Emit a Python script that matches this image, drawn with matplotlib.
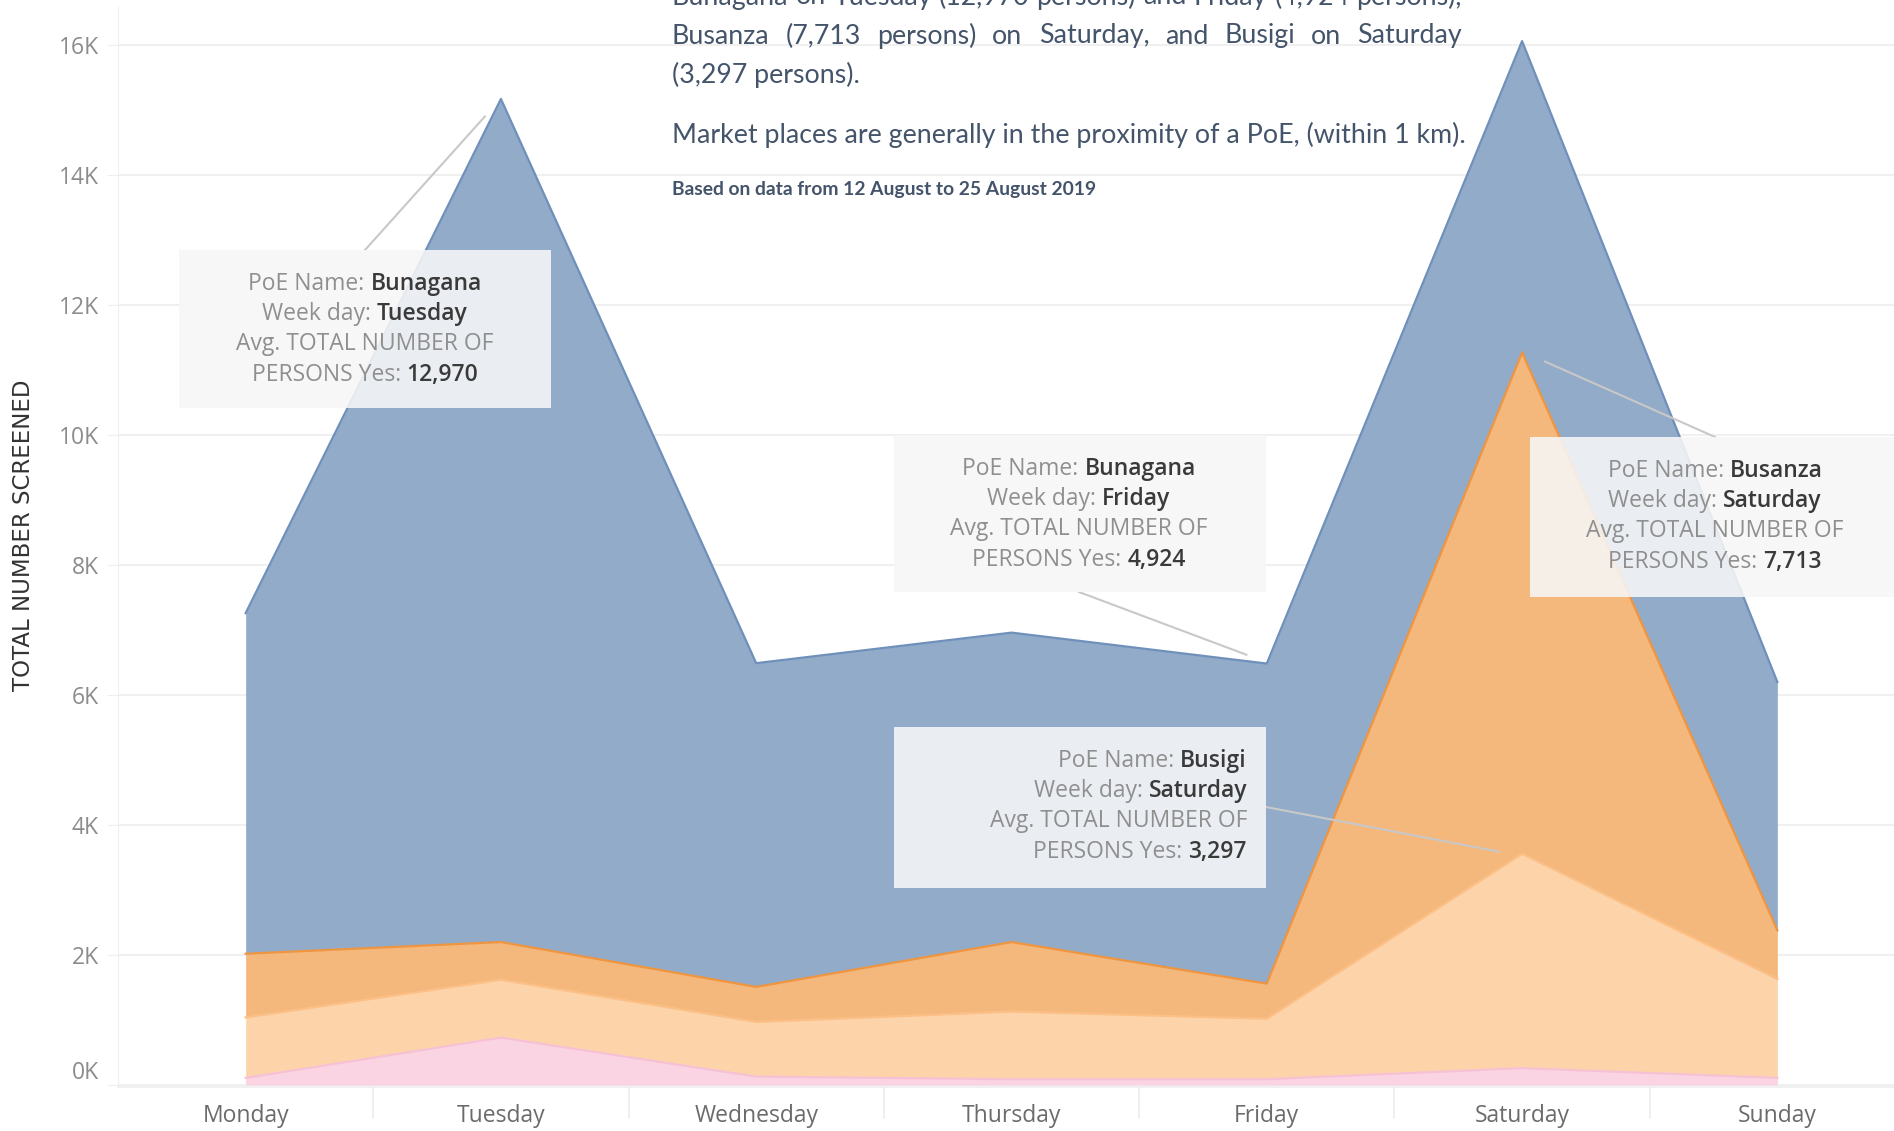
import numpy as np
import matplotlib
matplotlib.use("Agg")
import matplotlib.pyplot as plt
from matplotlib.transforms import Affine2D

# values in thousands of persons
days = ["Monday", "Tuesday", "Wednesday", "Thursday", "Friday", "Saturday", "Sunday"]
other = [0.11, 0.73, 0.13, 0.09, 0.09, 0.26, 0.11]
busigi = [0.93, 0.89, 0.84, 1.04, 0.93, 3.297, 1.52]
busanza = [0.98, 0.58, 0.54, 1.07, 0.54, 7.713, 0.75]
bunagana = [5.24, 12.970, 4.98, 4.76, 4.924, 4.79, 3.82]
yticks = [0, 2, 4, 6, 8, 10, 12, 14, 16]

para_lines = [
    "Bunagana on Tuesday (12,970 persons) and Friday (4,924 persons),",
    "Busanza (7,713 persons) on Saturday, and Busigi on Saturday",
    "(3,297 persons).",
]
para_note = "Market places are generally in the proximity of a PoE, (within 1 km)."
para_source = "Based on data from 12 August to 25 August 2019"

# tooltips: (poe, day, value)
tips = [
    ("Bunagana", "Tuesday", "12,970"),
    ("Bunagana", "Friday", "4,924"),
    ("Busigi", "Saturday", "3,297"),
    ("Busanza", "Saturday", "7,713"),
]

W, H = 1894, 1131
fig = plt.figure(figsize=(W / 100, H / 100), dpi=100)
pix = Affine2D().scale(1, -1).translate(0, H)  # pixel coords, origin top-left
renderer = fig.canvas.get_renderer()

ax = fig.add_axes([118 / W, 1 - 1087 / H, (1905 - 118) / W, (1087 - 7) / H])
x = np.arange(len(days))

fills = ["#fad4e2", "#fdd4aa", "#f4b87c", "#91abc9"]
edges = ["#f6c1d4", "#fcbf86", "#ef9540", "#6f90ba"]
base = np.zeros(len(days))
for vals, fc, ec in zip([other, busigi, busanza, bunagana], fills, edges):
    top = base + np.array(vals)
    ax.fill_between(x, base, top, color=fc, lw=0, zorder=2)
    ax.plot(x, top, color=ec, lw=1.6, zorder=3)
    base = top

ax.set_xlim(-0.5, 6.5)
ax.set_ylim(-0.03, (1085 - 7) / 65)
ax.set_yticks(yticks)
ax.set_yticklabels(["%dK" % v for v in yticks])
ax.set_xticks(x)
ax.set_xticklabels(days)
ax.grid(axis="y", color="#efefef", lw=1.3, zorder=0)
ax.set_axisbelow(True)
for s in ["top", "right", "bottom"]:
    ax.spines[s].set_visible(False)
ax.spines["left"].set_color("#eeeeee")
ax.axhline(-0.03, color="#efefef", lw=1.3, clip_on=False)
ax.tick_params(axis="y", length=8, color="#efefef", pad=6, labelsize=16.5, labelcolor="#8c8c8c")
ax.tick_params(axis="x", length=0, pad=12, labelsize=16.5, labelcolor="#6b6b6b")
for t in ax.get_xticklabels() + ax.get_yticklabels():
    t.set_family("Open Sans")
ax.get_yticklabels()[0].set_va("bottom")  # 0K sits just above the baseline
# band dividers under the axis
for b in np.arange(0.5, 6.5, 1.0):
    ax.plot([b, b], [-0.03, -0.5], color="#ececec", lw=1.2, clip_on=False)

fig.text(24, 535, "TOTAL NUMBER SCREENED", transform=pix, rotation=90,
         ha="center", va="center", fontsize=16.5, color="#333333",
         family=["Liberation Sans Narrow", "DejaVu Sans"])

# paragraph, justified between two edges
pcol = "#44546a"
left, right = 672, 1462
probe = fig.text(0, 0, para_note, fontsize=10, family="Lato")
fs = 10 * (right - left) / probe.get_window_extent(renderer).width
probe.remove()


def justify(line, y):
    words = line.split(" ")
    arts = [fig.text(0, y, w, transform=pix, fontsize=fs, family="Lato",
                     color=pcol, va="center") for w in words]
    widths = [a.get_window_extent(renderer).width for a in arts]
    gap = (right - left - sum(widths)) / (len(words) - 1)
    xx = left
    for a, w in zip(arts, widths):
        a.set_x(xx)
        xx += w + gap


justify(para_lines[0], -3)
justify(para_lines[1], 36)
fig.text(left, 75, para_lines[2], transform=pix, fontsize=fs, family="Lato",
         color=pcol, va="center")
fig.text(left, 135, para_note, transform=pix, fontsize=fs, family="Lato",
         color=pcol, va="center")
fig.text(left, 190, para_source, transform=pix, fontsize=fs * 0.72, family="Lato",
         color=pcol, va="center", weight="bold")


def rich_line(pieces, xa, y, align):
    arts = [fig.text(0, y, s, transform=pix, fontsize=16.5, family="Open Sans",
                     color=c, weight=wt, va="center", zorder=6) for s, c, wt in pieces]
    widths = [a.get_window_extent(renderer).width for a in arts]
    total = sum(widths)
    xx = xa - total / 2 if align == "center" else xa - total
    for a, w in zip(arts, widths):
        a.set_x(xx)
        xx += w


# boxes: (x0, y0, x1, y1) in pixels, text anchor, alignment,
# leader line target (data) and start (pixels)
boxes = [
    ((179, 250, 551, 408), 365, "center", (0.937, 14.9), (365, 250)),
    ((894, 435, 1266, 592), 1079, "center", (3.92, 6.62), (1079, 592)),
    ((894, 727, 1266, 888), 1247, "right", (4.91, 3.59), (1266, 807)),
    ((1530, 437, 1910, 597), 1715, "center", (5.09, 11.13), (1715, 437)),
]
lab, val = "#8f8f8f", "#3a3a3a"
for (poe, day, v), (bx, xa, align, target, start) in zip(tips, boxes):
    x0, y0, x1, y1 = bx
    tp = ax.transData.transform(target)
    fig.add_artist(plt.Line2D([start[0], tp[0]], [H - start[1], tp[1]],
                              transform=None, color="#c8c8c8", lw=1.5, zorder=4))
    fig.add_artist(plt.Rectangle((x0, y0), x1 - x0, y1 - y0, transform=pix,
                                 facecolor="#f7f7f7", alpha=0.88, lw=0, zorder=5))
    yc = y0 + 34
    rich_line([("PoE Name: ", lab, "normal"), (poe, val, "semibold")], xa, yc, align)
    rich_line([("Week day: ", lab, "normal"), (day, val, "semibold")], xa, yc + 30, align)
    rich_line([("Avg. TOTAL NUMBER OF", lab, "normal")], xa, yc + 60, align)
    rich_line([("PERSONS Yes: ", lab, "normal"), (v, val, "semibold")], xa, yc + 91, align)

fig.savefig("out.png", dpi=100)
